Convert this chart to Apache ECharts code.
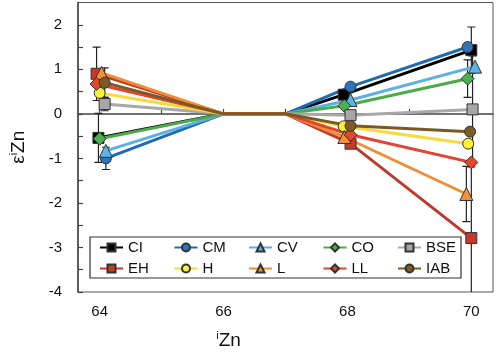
<!DOCTYPE html>
<html>
<head>
<meta charset="utf-8">
<script src="https://cdn.jsdelivr.net/npm/echarts@6/dist/echarts.min.js"></script>
<style>html,body{margin:0;padding:0;background:#fff}#c{width:500px;height:356px}</style>
</head>
<body>
<div id="c"></div>
<script>
const seriesNames = ['CI','CM','CV','CO','BSE','EH','H','L','LL','IAB'];
const lineColors  = ['#000000','#1F6BB0','#5AB1E2','#4CAA48','#A8A8A8','#C03A2B','#F5DC3C','#F08D36','#E3442E','#7A5A22'];
const markColors  = ['#000000','#2E74B8','#5AB4E8','#4CB050','#A6A6A6','#C8392B','#FFF033','#F39234','#E8452F','#7D5B27'];
const symbols     = ['rect','circle','triangle','diamond','rect','rect','circle','triangle','diamond','circle'];
const normPoints  = [66, 67];
const x64 = [63.98, 64.10, 64.10, 64.00, 64.08, 63.95, 64.00, 64.03, 63.95, 64.08];
const v64 = [-0.54, -1.00, -0.83, -0.56, 0.22, 0.90, 0.47, 0.92, 0.67, 0.70];
const x68 = [67.94, 68.05, 68.05, 67.95, 68.05, 68.05, 67.94, 67.95, 68.05, 68.05];
const v68 = [0.43, 0.61, 0.31, 0.18, -0.03, -0.67, -0.28, -0.52, -0.47, -0.27];
const x70 = [70.00, 69.94, 70.06, 69.94, 70.02, 70.00, 69.95, 69.92, 70.00, 69.98];
const v70 = [1.43, 1.50, 1.06, 0.79, 0.10, -2.79, -0.67, -1.80, -1.09, -0.40];
const err64 = [0.55, 0.25, null, null, 0.15, 0.60, null, null, null, 0.33];
const err70 = [0.52, null, null, 0.42, 1.20, 1.60, null, 0.62, null, null];
const xTicks = [64, 65, 66, 67, 68, 69, 70];
const xLabels = [64, 66, 68, 70];
const yTicks = [-4, -3.5, -3, -2.5, -2, -1.5, -1, -0.5, 0, 0.5, 1, 1.5, 2];
const yLabels = [-4, -3, -2, -1, 0, 1, 2];

const chart = echarts.init(document.getElementById('c'), null, {renderer: 'canvas'});

const errData = [];
seriesNames.forEach((n, i) => {
  if (err64[i] != null) errData.push([x64[i], v64[i] - err64[i], v64[i] + err64[i]]);
  if (err70[i] != null) errData.push([x70[i], v70[i] - err70[i], v70[i] + err70[i]]);
});

const series = seriesNames.map((n, i) => ({
  name: n,
  type: 'line',
  z: 3,
  symbol: symbols[i],
  symbolSize: symbols[i] === 'triangle' ? 13 : (symbols[i] === 'diamond' ? 13 : 11),
  showAllSymbol: true,
  lineStyle: {color: lineColors[i], width: 3},
  itemStyle: {color: markColors[i], borderColor: '#333', borderWidth: 1},
  emphasis: {disabled: true},
  animation: false,
  data: [
    [x64[i], v64[i]],
    {value: [normPoints[0], 0], symbolSize: 0},
    {value: [normPoints[1], 0], symbolSize: 0},
    [x68[i], v68[i]],
    [x70[i], v70[i]]
  ]
}));

series.unshift({
  type: 'custom',
  z: 2,
  animation: false,
  silent: true,
  clip: true,
  renderItem: function (params, api) {
    const x = api.value(0);
    const lo = api.coord([x, api.value(1)]);
    const hi = api.coord([x, api.value(2)]);
    const w = 4;
    const st = {stroke: '#222', lineWidth: 1.2};
    return {
      type: 'group',
      children: [
        {type: 'line', shape: {x1: lo[0], y1: lo[1], x2: hi[0], y2: hi[1]}, style: st},
        {type: 'line', shape: {x1: hi[0] - w, y1: hi[1], x2: hi[0] + w, y2: hi[1]}, style: st},
        {type: 'line', shape: {x1: lo[0] - w, y1: lo[1], x2: lo[0] + w, y2: lo[1]}, style: st}
      ]
    };
  },
  encode: {x: 0, y: [1, 2]},
  data: errData
});

const fontFam = '"Liberation Sans", Arial, sans-serif';

chart.setOption({
  animation: false,
  textStyle: {fontFamily: fontFam},
  grid: {left: 71, right: 7, top: 2.5, bottom: 64, show: true, borderColor: '#555', borderWidth: 1},
  xAxis: {
    type: 'value', min: 63.65, max: 70.35,
    splitLine: {show: false},
    axisLine: {lineStyle: {color: '#444', width: 1.5}},
    axisTick: {inside: true, length: 5, customValues: xTicks, lineStyle: {color: '#444', width: 1.2}},
    axisLabel: {customValues: xLabels, color: '#111', fontSize: 15, margin: 12, fontFamily: fontFam},
    name: '{sup|i}{m|Zn}', nameLocation: 'middle', nameGap: 38,
    nameTextStyle: {padding: [0, 114, 0, 0], rich: {
      sup: {fontSize: 11, verticalAlign: 'top', color: '#111', fontFamily: fontFam},
      m: {fontSize: 19, color: '#111', fontFamily: fontFam, lineHeight: 22}
    }}
  },
  yAxis: {
    type: 'value', min: -4, max: 2.5,
    splitLine: {show: false},
    axisLine: {lineStyle: {color: '#444', width: 1.5}},
    axisTick: {inside: true, length: 5, customValues: yTicks, lineStyle: {color: '#444', width: 1.2}},
    axisLabel: {customValues: yLabels, color: '#111', fontSize: 15, margin: 16, fontFamily: fontFam},
    name: '{m|ε}{sup|i}{m|Zn}', nameLocation: 'middle', nameGap: 48, nameRotate: 90,
    nameTextStyle: {rich: {
      sup: {fontSize: 11, verticalAlign: 'top', color: '#111', fontFamily: fontFam},
      m: {fontSize: 19, color: '#111', fontFamily: fontFam, lineHeight: 22}
    }}
  },
  legend: {
    data: seriesNames,
    left: 99, top: 237, width: 380,
    orient: 'horizontal',
    itemWidth: 23, itemHeight: 10, itemGap: 0,
    padding: 0,
    textStyle: {fontSize: 15, color: '#111', width: 45.5, lineHeight: 21, fontFamily: fontFam}
  },
  graphic: [{
    type: 'rect', z: 50,
    shape: {x: 90, y: 237, width: 371, height: 41},
    style: {fill: 'none', stroke: '#333', lineWidth: 1.2}
  }],
  series: series
});
</script>
</body>
</html>
